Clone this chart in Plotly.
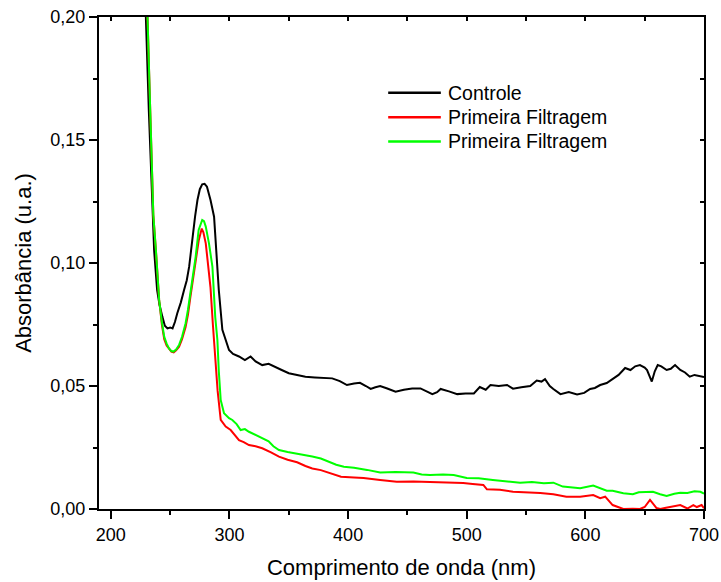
import plotly.graph_objects as go

# UV-Vis absorbance spectra (wavelength in nm, absorbance in a.u.)
wl_controle = [227, 229.5, 232, 235, 236.5, 239, 241, 243.5, 245.5, 247.7, 250, 252, 254, 256,
               259, 261.7, 264, 266, 268.7, 271, 273, 275, 277, 279, 281, 283, 284, 287, 289,
               291, 294, 296.8, 299.6, 303, 308, 313, 317.8, 322, 327.6, 333, 338.9, 344, 350,
               357, 364, 372, 380, 386.6, 393, 399, 405, 410, 415, 419, 423, 427, 433, 440,
               447, 454, 461, 466, 471, 475, 478, 485, 492, 499, 506, 511, 516, 520, 527, 534,
               539, 546, 553.5, 559, 563, 566, 570, 573, 579, 586, 593, 599, 604, 608, 612.5,
               618, 623, 628, 633.5, 638, 642, 646, 650, 652, 656, 658.5, 661, 664, 668.5, 672,
               675.6, 680, 684, 688, 692, 696, 700]
abs_controle = [0.230, 0.200, 0.162, 0.120, 0.105, 0.089, 0.083, 0.078, 0.0745, 0.0734, 0.0738,
                0.0734, 0.076, 0.0796, 0.084, 0.089, 0.093, 0.0985, 0.1107, 0.119, 0.1256, 0.130,
                0.132, 0.1322, 0.131, 0.128, 0.1256, 0.1188, 0.105, 0.089, 0.0728, 0.0687, 0.0646,
                0.063, 0.062, 0.0605, 0.062, 0.060, 0.0585, 0.059, 0.0578, 0.0565, 0.0552, 0.0545,
                0.0538, 0.0535, 0.0532, 0.0531, 0.052, 0.0504, 0.051, 0.0513, 0.050, 0.0488,
                0.0495, 0.050, 0.049, 0.0477, 0.0485, 0.049, 0.049, 0.048, 0.0467, 0.0475,
                0.0488, 0.0478, 0.0467, 0.047, 0.047, 0.0496, 0.0485, 0.0504, 0.050, 0.0504,
                0.0489, 0.0495, 0.050, 0.0522, 0.0518, 0.0528, 0.050, 0.0488, 0.0467, 0.0475,
                0.0466, 0.0472, 0.0488, 0.0492, 0.0504, 0.0512, 0.0528, 0.0545, 0.0573, 0.0565,
                0.058, 0.0585, 0.0575, 0.0565, 0.0518, 0.056, 0.0585, 0.058, 0.0565, 0.057,
                0.0585, 0.0565, 0.0555, 0.0538, 0.0545, 0.0542, 0.0536]

wl_filtr1 = [228, 230.9, 233, 235.8, 238, 240.7, 243, 245, 247, 249, 251, 253, 255, 257.5, 260,
             263, 265, 267, 269, 271.5, 274, 276.6, 278, 280, 282, 284, 286, 288, 290, 292.6,
             294.5, 296.8, 301, 305, 308, 312, 316.4, 322, 327.6, 335, 341.7, 349, 357, 364,
             369.8, 377, 383.8, 394, 405, 413, 427, 441, 455, 469, 483, 497, 505, 514, 517, 528,
             539, 550, 562, 573, 584, 595.6, 606.6, 612.5, 616.7, 623, 628, 632, 640, 646, 650,
             654.5, 660, 663, 668, 674, 680, 686, 691, 694, 698, 700]
abs_filtr1 = [0.230, 0.200, 0.165, 0.1195, 0.105, 0.085, 0.075, 0.069, 0.0665, 0.065, 0.064,
              0.0637, 0.0645, 0.066, 0.069, 0.074, 0.079, 0.086, 0.093, 0.100, 0.109, 0.114,
              0.1125, 0.108, 0.100, 0.090, 0.075, 0.060, 0.048, 0.0362, 0.035, 0.0335, 0.0321,
              0.030, 0.028, 0.0272, 0.026, 0.0255, 0.0247, 0.023, 0.0213, 0.020, 0.019, 0.0175,
              0.0165, 0.0158, 0.0148, 0.0131, 0.0128, 0.0126, 0.0118, 0.0111, 0.0112, 0.0111,
              0.0108, 0.0106, 0.0102, 0.0098, 0.008, 0.0078, 0.007, 0.0068, 0.0065, 0.006,
              0.005, 0.005, 0.0057, 0.0044, 0.005, 0.0016, 0.0008, 0.0, 0.0001, 0.0, 0.0008,
              0.0037, 0.0004, 0.0, 0.0005, 0.0012, 0.0016, 0.0002, 0.0016, 0.0008, 0.0016, 0.0003]

wl_filtr2 = [228, 230.9, 233, 235.8, 238, 240.7, 243, 245, 247, 249, 251, 252.7, 255, 257.5, 260,
             263, 265, 267, 269, 271.5, 274, 275.5, 277, 278.5, 280, 282.7, 285.6, 288, 289.8,
             291, 292.6, 295.4, 299.6, 302.4, 306, 309.4, 313, 316.4, 322, 327.6, 333, 337,
             341.7, 349, 355.7, 362, 369.8, 377, 383.8, 390, 396.4, 405, 416, 421, 427, 440,
             455, 462, 469, 480, 489, 500, 510, 522, 533, 545, 555, 565, 573, 581, 595.6, 606.6,
             618, 623, 632, 640, 645, 651.7, 657, 663, 668.5, 675, 680, 686, 692, 697, 700]
abs_filtr2 = [0.230, 0.200, 0.165, 0.1195, 0.105, 0.085, 0.076, 0.070, 0.0672, 0.0653, 0.0642,
              0.064, 0.0648, 0.0667, 0.070, 0.0755, 0.081, 0.0877, 0.095, 0.1026, 0.1134, 0.116,
              0.1175, 0.117, 0.1148, 0.108, 0.0985, 0.078, 0.0687, 0.056, 0.0443, 0.0389, 0.0369,
              0.0362, 0.0345, 0.0321, 0.0325, 0.0314, 0.030, 0.0287, 0.0275, 0.0255, 0.024,
              0.0232, 0.0226, 0.0222, 0.0213, 0.0205, 0.0192, 0.018, 0.0172, 0.0168, 0.0159,
              0.0155, 0.0148, 0.015, 0.0148, 0.014, 0.0138, 0.014, 0.0138, 0.0126, 0.0125,
              0.0118, 0.0112, 0.0107, 0.011, 0.0105, 0.0107, 0.0091, 0.0084, 0.0095, 0.0074,
              0.0074, 0.0064, 0.006, 0.0068, 0.007, 0.007, 0.006, 0.0053, 0.0062, 0.0066,
              0.0065, 0.0072, 0.007, 0.0062]

series_names = ["Controle", "Primeira Filtragem", "Primeira Filtragem"]
series_colors = ["#000000", "#ff0000", "#00ff00"]

FONT = "Liberation Sans, Arial, sans-serif"

fig = go.Figure()
for wl, ab, name, color in zip([wl_controle, wl_filtr1, wl_filtr2],
                               [abs_controle, abs_filtr1, abs_filtr2],
                               series_names, series_colors):
    fig.add_trace(go.Scatter(x=wl, y=ab, mode="lines", name=name,
                             line=dict(color=color, width=2), showlegend=False))

# Legend drawn as line samples + labels inside the plot
legend_y = [0.846, 0.796, 0.747]
for name, color, ly in zip(series_names, series_colors, legend_y):
    fig.add_shape(type="line", xref="paper", yref="paper",
                  x0=0.478, x1=0.565, y0=ly, y1=ly,
                  line=dict(color=color, width=2.5))
    fig.add_annotation(xref="paper", yref="paper", x=0.574, y=ly, text=name,
                       showarrow=False, xanchor="left", yanchor="middle",
                       font=dict(family=FONT, size=19.5, color="black"))

axis_common = dict(showgrid=False, zeroline=False, showline=True, linecolor="black",
                   linewidth=2, tickcolor="black", tickwidth=2)

fig.update_layout(
    width=721, height=582,
    margin=dict(l=99, r=17, t=17, b=73, autoexpand=False),
    paper_bgcolor="white", plot_bgcolor="white",
    separators=",.",
    font=dict(family=FONT, color="black"),
    xaxis=dict(range=[190, 700], tickvals=[200, 300, 400, 500, 600, 700],
               ticks="outside", ticklen=8,
               minor=dict(tickvals=[250, 350, 450, 550, 650], ticks="outside",
                          ticklen=4, tickcolor="black", tickwidth=2),
               tickfont=dict(size=18),
               title=dict(text="Comprimento de onda (nm)", font=dict(size=22), standoff=16),
               **axis_common),
    yaxis=dict(range=[0, 0.2], tickvals=[0, 0.05, 0.10, 0.15, 0.20], tickformat=".2f",
               ticks="outside", ticklen=8,
               minor=dict(tickvals=[0.025, 0.075, 0.125, 0.175], ticks="outside",
                          ticklen=4, tickcolor="black", tickwidth=2),
               tickfont=dict(size=18),
               title=dict(text="Absorbância (u.a.)", font=dict(size=22), standoff=13),
               **axis_common),
    xaxis2=dict(range=[190, 700], overlaying="x", side="top", anchor="y",
                tickvals=[200, 250, 300, 350, 400, 450, 500, 550, 600, 650, 700],
                ticks="inside", ticklen=4, showticklabels=False, **axis_common),
    yaxis2=dict(range=[0, 0.2], overlaying="y", side="right", anchor="x",
                tickvals=[0.025, 0.05, 0.075, 0.10, 0.125, 0.15, 0.175],
                ticks="inside", ticklen=4, showticklabels=False, **axis_common),
)

# invisible trace so the mirrored frame axes are rendered
fig.add_trace(go.Scatter(x=[None], y=[None], xaxis="x2", yaxis="y2",
                         showlegend=False, hoverinfo="skip"))

fig.write_html("out.html")
